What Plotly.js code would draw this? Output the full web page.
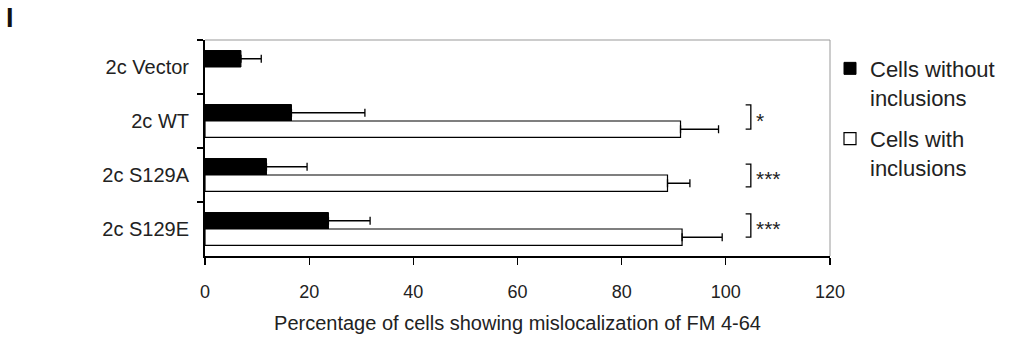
<!DOCTYPE html>
<html>
<head>
<meta charset="utf-8">
<script src="https://cdn.plot.ly/plotly-3.0.1.min.js"></script>
<style>
html,body{margin:0;padding:0;background:#fff;}
#chart{width:1019px;height:343px;}
</style>
</head>
<body>
<div id="chart"></div>
<script>
const categories = ['2c Vector', '2c WT', '2c S129A', '2c S129E'];
const withoutValues = [6.9, 16.6, 11.8, 23.7];
const withoutErrors = [3.9, 14.1, 7.8, 8.0];
const withValues = [null, 91.3, 88.8, 91.6];
const withErrors = [null, 7.3, 4.3, 7.7];
const significance = ['', '*', '***', '***'];
const xTicks = [0, 20, 40, 60, 80, 100, 120];

const FONT = 'Liberation Sans, Arial, sans-serif';
const TXT = '#222';

const traces = [
  {
    type: 'bar', orientation: 'h', name: 'Cells without<br>inclusions',
    y: categories, x: withoutValues, legendgroup: 'a',
    marker: {color: '#000', line: {color: '#000', width: 1}},
    error_x: {type: 'data', symmetric: false, array: withoutErrors,
      arrayminus: withoutErrors.map(() => 0), color: '#000', thickness: 1.3, width: 4},
    hoverinfo: 'x+y'
  },
  {
    type: 'bar', orientation: 'h', name: 'Cells with<br>inclusions',
    y: categories, x: withValues, legendgroup: 'b',
    marker: {color: '#fff', line: {color: '#000', width: 1.2}},
    error_x: {type: 'data', symmetric: false, array: withErrors,
      arrayminus: withErrors.map(v => v === null ? null : 0), color: '#000', thickness: 1.3, width: 4},
    hoverinfo: 'x+y'
  }
];

// significance brackets (offsets within category band)
const bracketTop = [0, -0.30, -0.20, -0.28];
const bracketBottom = [0, 0.15, 0.22, 0.15];
const bracketX = 104.8;
const shapes = [
  {type: 'line', xref: 'paper', yref: 'paper', x0: 0, x1: 1, y0: 1, y1: 1, line: {color: '#999', width: 1}},
  {type: 'line', xref: 'paper', yref: 'paper', x0: 1, x1: 1, y0: 0, y1: 1, line: {color: '#999', width: 1}}
];
const annotations = [];
significance.forEach((s, i) => {
  if (!s) return;
  const y0 = i + bracketTop[i], y1 = i + bracketBottom[i];
  shapes.push({type: 'path', xref: 'x', yref: 'y',
    path: `M ${bracketX - 1} ${y0} H ${bracketX} V ${y1} H ${bracketX - 1}`,
    line: {color: '#000', width: 1.3}});
  annotations.push({xref: 'x', yref: 'y', x: bracketX + 0.6, y: i + (bracketTop[i] + bracketBottom[i]) / 2 + 0.06,
    xanchor: 'left', yanchor: 'middle', text: s, showarrow: false,
    font: {family: FONT, size: 21, color: TXT}});
});

const layout = {
  width: 1019, height: 343,
  margin: {l: 205, r: 189, t: 40, b: 87},
  paper_bgcolor: '#fff', plot_bgcolor: '#fff',
  font: {family: FONT, color: TXT, size: 16},
  barmode: 'group', bargap: 0.39, bargroupgap: 0,
  title: {text: 'I', font: {family: FONT, size: 27, color: '#111', weight: 'bold'},
    xref: 'container', yref: 'container', x: 0.006, xanchor: 'left', y: 0.975, yanchor: 'top'},
  xaxis: {
    range: [0, 120], tickvals: xTicks, ticktext: xTicks.map(String),
    showgrid: false, zeroline: false, showline: true, linecolor: '#000', linewidth: 1.5,
    ticks: 'outside', ticklen: 7, tickwidth: 1.3, tickcolor: '#000',
    ticklabelstandoff: 12,
    tickfont: {family: FONT, size: 18, color: TXT},
    title: {text: 'Percentage of cells showing mislocalization of FM 4-64',
      font: {family: FONT, size: 20, color: TXT}, standoff: 15},
    fixedrange: true
  },
  yaxis: {
    type: 'category', categoryorder: 'array', categoryarray: categories,
    autorange: 'reversed',
    showgrid: false, zeroline: false, showline: true, linecolor: '#000', linewidth: 2,
    ticks: 'outside', tickson: 'boundaries', ticklen: 6, tickwidth: 1.3, tickcolor: '#000',
    ticklabelstandoff: 10,
    tickfont: {family: FONT, size: 20, color: TXT},
    fixedrange: true
  },
  showlegend: true,
  legend: {
    x: 1.0, xanchor: 'left', y: 0.965, yanchor: 'top',
    traceorder: 'grouped', tracegroupgap: 10, valign: 'top',
    font: {family: FONT, size: 22, color: TXT},
    bgcolor: 'rgba(0,0,0,0)', itemwidth: 30
  },
  shapes: shapes,
  annotations: annotations
};

Plotly.newPlot('chart', traces, layout, {displayModeBar: false, staticPlot: true});
</script>
</body>
</html>
